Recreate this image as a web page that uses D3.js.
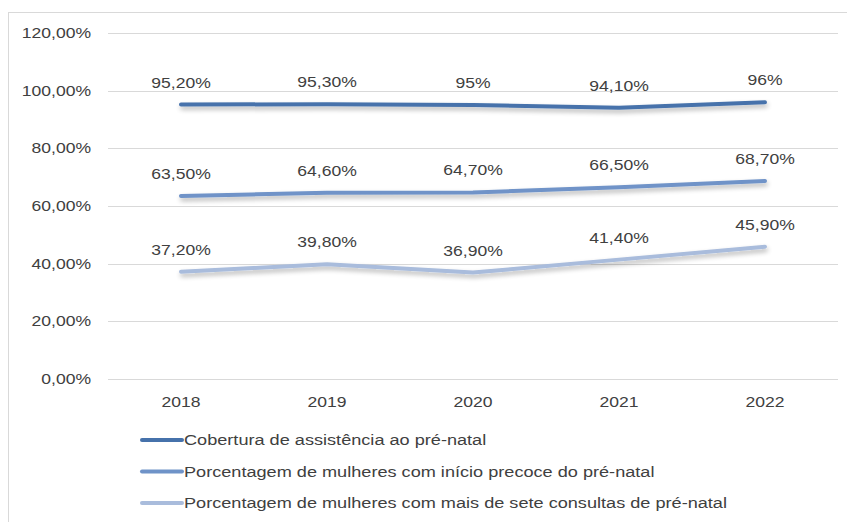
<!DOCTYPE html>
<html>
<head>
<meta charset="utf-8">
<script src="https://cdn.jsdelivr.net/npm/d3@7"></script>
<style>
  body { margin: 0; background: #fff; }
  svg text { font-family: "Liberation Sans", Arial, sans-serif; fill: #404040; font-size: 15px; }
</style>
</head>
<body>
<svg></svg>
<script>
const width = 847;
const height = 522;

const years = ['2018', '2019', '2020', '2021', '2022'];
const cobertura = [95.2, 95.3, 95, 94.1, 96];
const inicioPrecoce = [63.5, 64.6, 64.7, 66.5, 68.7];
const seteConsultas = [37.2, 39.8, 36.9, 41.4, 45.9];
const labelsCobertura = ['95,20%', '95,30%', '95%', '94,10%', '96%'];
const labelsPrecoce = ['63,50%', '64,60%', '64,70%', '66,50%', '68,70%'];
const labelsSete = ['37,20%', '39,80%', '36,90%', '41,40%', '45,90%'];
const seriesNames = [
    'Cobertura de assistência ao pré-natal',
    'Porcentagem de mulheres com início precoce do pré-natal',
    'Porcentagem de mulheres com mais de sete consultas de pré-natal'
];
const yTicks = [0, 20, 40, 60, 80, 100, 120];

const colors = ['#4672ab', '#6f93c8', '#a9bcdc'];
const stretch = 1.17; // text in the original is drawn a bit wide
const legendStretch = 1.21;

const series = [
    { name: seriesNames[0], values: cobertura, labels: labelsCobertura, color: colors[0] },
    { name: seriesNames[1], values: inicioPrecoce, labels: labelsPrecoce, color: colors[1] },
    { name: seriesNames[2], values: seteConsultas, labels: labelsSete, color: colors[2] }
];

const margin = { left: 108, right: 9, top: 33, bottom: 143 };

const svg = d3.select('svg')
    .attr('width', width)
    .attr('height', height);

const place = (tx, ty, k = stretch) => `translate(${tx},${ty}) scale(${k},1)`;

// outer chart border
svg.append('rect')
    .attr('x', 8.5)
    .attr('y', 12.5)
    .attr('width', 860)
    .attr('height', 530)
    .attr('fill', 'none')
    .attr('stroke', '#d9d9d9');

const defs = svg.append('defs');
const filter = defs.append('filter')
    .attr('id', 'shadow')
    .attr('x', '-10%').attr('y', '-100%')
    .attr('width', '120%').attr('height', '400%');
filter.append('feGaussianBlur').attr('in', 'SourceAlpha').attr('stdDeviation', 2.5).attr('result', 'blur');
filter.append('feOffset').attr('in', 'blur').attr('dx', 1).attr('dy', 3).attr('result', 'off');
filter.append('feComponentTransfer').attr('in', 'off').attr('result', 'soft')
    .append('feFuncA').attr('type', 'linear').attr('slope', 0.3);
const merge = filter.append('feMerge');
merge.append('feMergeNode').attr('in', 'soft');
merge.append('feMergeNode').attr('in', 'SourceGraphic');

const x = d3.scaleBand()
    .domain(years)
    .range([margin.left, width - margin.right]);

const y = d3.scaleLinear()
    .domain([0, 120])
    .range([height - margin.bottom, margin.top]);

// gridlines
svg.append('g')
    .selectAll('line')
    .data(yTicks)
    .enter().append('line')
    .attr('x1', margin.left)
    .attr('x2', width - margin.right)
    .attr('y1', d => Math.round(y(d)) + 0.5)
    .attr('y2', d => Math.round(y(d)) + 0.5)
    .attr('stroke', '#d9d9d9')
    .attr('stroke-width', 1);

// y tick labels
svg.append('g')
    .selectAll('text')
    .data(yTicks)
    .enter().append('text')
    .attr('transform', d => place(91, y(d) + 5))
    .attr('text-anchor', 'end')
    .text(d => d3.format('.2f')(d).replace('.', ',') + '%');

// x tick labels
svg.append('g')
    .selectAll('text')
    .data(years)
    .enter().append('text')
    .attr('transform', d => place(x(d) + x.bandwidth() / 2, 407))
    .attr('text-anchor', 'middle')
    .text(d => d);

const line = d3.line()
    .x((d, i) => x(years[i]) + x.bandwidth() / 2)
    .y(d => y(d));

svg.append('g')
    .selectAll('path')
    .data(series)
    .enter().append('path')
    .attr('d', d => line(d.values))
    .attr('fill', 'none')
    .attr('stroke', d => d.color)
    .attr('stroke-width', 4)
    .attr('stroke-linecap', 'round')
    .attr('stroke-linejoin', 'round')
    .attr('filter', 'url(#shadow)');

// data labels
series.forEach(s => {
    svg.append('g')
        .selectAll('text')
        .data(s.values)
        .enter().append('text')
        .attr('transform', (d, i) => place(x(years[i]) + x.bandwidth() / 2, y(d) - 17))
        .attr('text-anchor', 'middle')
        .text((d, i) => s.labels[i]);
});

// legend
const legend = svg.selectAll('g.legend')
    .data(series)
    .enter().append('g')
    .attr('class', 'legend')
    .attr('transform', (d, i) => `translate(140, ${440 + i * 31.5})`);

legend.append('line')
    .attr('x1', 2).attr('x2', 42)
    .attr('y1', 0).attr('y2', 0)
    .attr('stroke', d => d.color)
    .attr('stroke-width', 4)
    .attr('stroke-linecap', 'round');

legend.append('text')
    .attr('transform', place(44, 5, legendStretch))
    .text(d => d.name);
</script>
</body>
</html>
